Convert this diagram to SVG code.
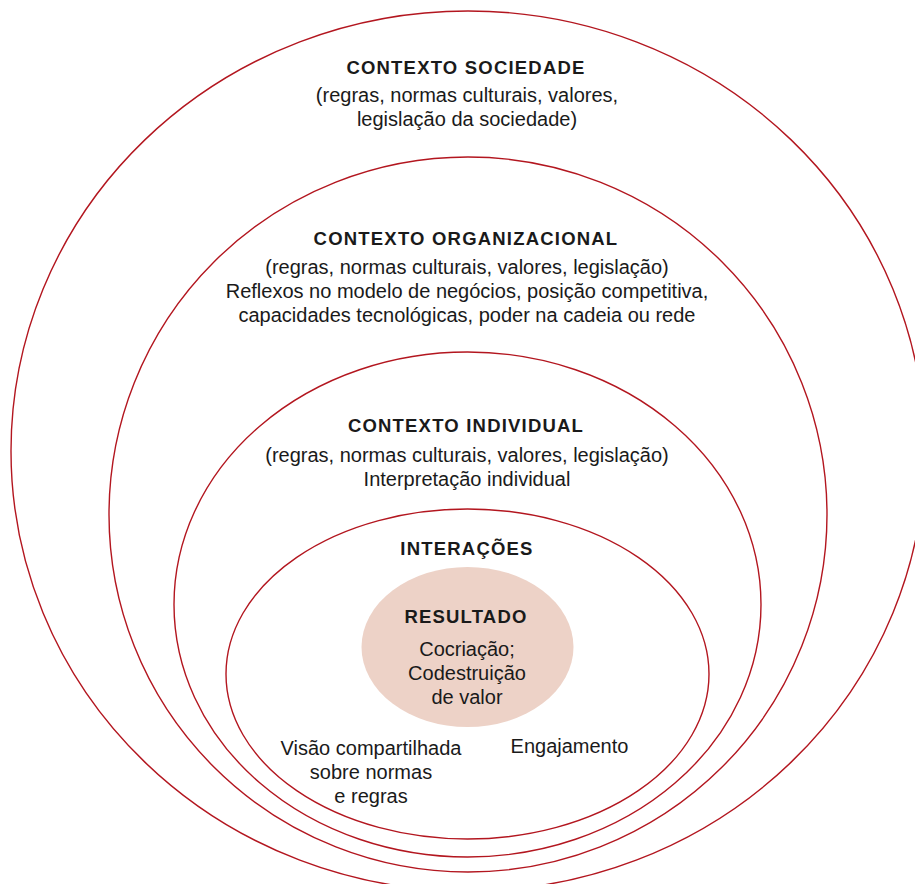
<svg xmlns="http://www.w3.org/2000/svg" width="915" height="884" viewBox="0 0 915 884">
  <style>
    .ring { fill: none; stroke: #b3161f; stroke-width: 1.4; }
    .core { fill: #edd2c7; stroke: none; }
    text { font-family: "Liberation Sans", Arial, sans-serif; fill: #1a1a1a; text-anchor: middle; }
    .title { font-size: 18.5px; font-weight: bold; letter-spacing: 1.2px; }
    .body { font-size: 20px; }
  </style>
  <rect width="915" height="884" fill="#ffffff"/>

  <!-- Society context: outermost ring -->
  <g id="contexto-sociedade">
    <ellipse class="ring" cx="468" cy="451" rx="457" ry="440"/>
    <text class="title" x="466" y="74">CONTEXTO SOCIEDADE</text>
    <text class="body" x="467" y="102">(regras, normas culturais, valores,</text>
    <text class="body" x="467" y="126">legislação da sociedade)</text>
  </g>

  <!-- Organizational context -->
  <g id="contexto-organizacional">
    <ellipse class="ring" cx="468" cy="514.5" rx="359" ry="357.5"/>
    <text class="title" x="466" y="245">CONTEXTO ORGANIZACIONAL</text>
    <text class="body" x="467" y="274">(regras, normas culturais, valores, legislação)</text>
    <text class="body" x="467" y="298">Reflexos no modelo de negócios, posição competitiva,</text>
    <text class="body" x="467" y="322">capacidades tecnológicas, poder na cadeia ou rede</text>
  </g>

  <!-- Individual context -->
  <g id="contexto-individual">
    <ellipse class="ring" cx="467.5" cy="604.5" rx="293.5" ry="252.5"/>
    <text class="title" x="466" y="432">CONTEXTO INDIVIDUAL</text>
    <text class="body" x="467" y="462">(regras, normas culturais, valores, legislação)</text>
    <text class="body" x="467" y="486">Interpretação individual</text>
  </g>

  <!-- Interactions -->
  <g id="interacoes">
    <ellipse class="ring" cx="467.5" cy="674" rx="241.5" ry="165"/>
    <text class="title" x="467" y="555">INTERAÇÕES</text>
    <text class="body" x="371" y="755">Visão compartilhada</text>
    <text class="body" x="371" y="779">sobre normas</text>
    <text class="body" x="371" y="803">e regras</text>
    <text class="body" x="569.5" y="753">Engajamento</text>
  </g>

  <!-- Outcome at the core -->
  <g id="resultado">
    <ellipse class="core" cx="467.5" cy="647" rx="106" ry="80"/>
    <text class="title" x="466" y="623">RESULTADO</text>
    <text class="body" x="467" y="656">Cocriação;</text>
    <text class="body" x="467" y="680">Codestruição</text>
    <text class="body" x="467" y="704">de valor</text>
  </g>
</svg>
